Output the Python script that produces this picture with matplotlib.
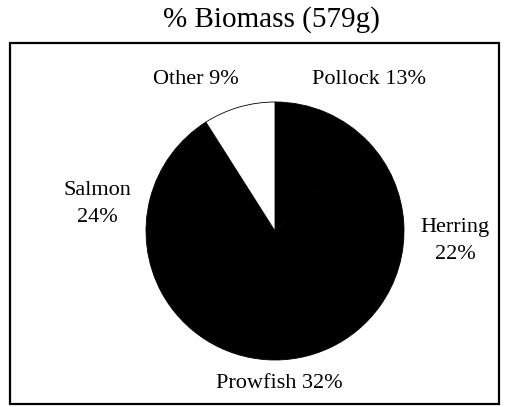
import matplotlib.pyplot as plt
from matplotlib.patches import Rectangle

# data (percent of biomass), clockwise from 12 o'clock
species = ["Pollock", "Herring", "Prowfish", "Salmon", "Other"]
biomass_pct = [13, 22, 32, 24, 9]
slice_colors = ["black", "black", "black", "black", "white"]
title = "% Biomass (579g)"

W, H = 506, 407
fig = plt.figure(figsize=(W / 100, H / 100), dpi=100)
ax = fig.add_axes([0, 0, 1, 1])

serif = "Liberation Serif"

# pie, center in pixel coords (y measured from bottom)
cx, cy, r = 275, H - 231, 129
ax.pie(biomass_pct, colors=slice_colors, startangle=90, counterclock=False,
       center=(cx, cy), radius=r, frame=True,
       wedgeprops=dict(edgecolor="black", linewidth=0.6))
ax.set_xlim(0, W)
ax.set_ylim(0, H)
ax.set_aspect("equal")
ax.axis("off")

# frame box
ax.add_patch(Rectangle((10, 3), 489, H - 43 - 3, fill=False,
                       edgecolor="black", linewidth=1.6))

ax.text(271, H - 20, title, ha="center", va="center",
        fontsize=21, family=serif)

lbl = dict(fontsize=16, family=serif, ha="center", va="center",
           linespacing=1.6)
labels = [f"{s}\n{p}%" if s in ("Salmon", "Herring") else f"{s} {p}%"
          for s, p in zip(species, biomass_pct)]
pos = {"Pollock": (369, 80), "Herring": (455, 241), "Prowfish": (279, 384),
       "Salmon": (97, 204), "Other": (196, 80)}
for s, t in zip(species, labels):
    x, y = pos[s]
    ax.text(x, H - y, t, **lbl)

fig.savefig("out.png", dpi=100)
